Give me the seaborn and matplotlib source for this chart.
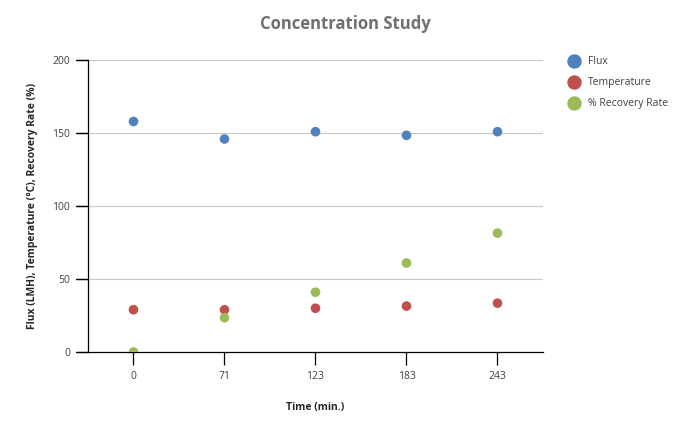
import pandas as pd
import numpy as np
import matplotlib.pyplot as plt
import seaborn as sns

time_labels = ['0', '71', '123', '183', '243']
flux = [158, 146, 151, 148.5, 151]
temperature = [29, 29, 30, 31.5, 33.5]
recovery = [0, 23.5, 41, 61, 81.5]

series_names = ['Flux', 'Temperature', '% Recovery Rate']
colors = ['#4F81BD', '#C0504D', '#9BBB59']

df = pd.DataFrame({
    'Time': time_labels * 3,
    'Value': flux + temperature + recovery,
    'Series': [series_names[0]] * 5 + [series_names[1]] * 5 + [series_names[2]] * 5,
})

sns.set_style('white', {'xtick.bottom': True, 'ytick.left': True,
                        'axes.edgecolor': 'black'})
plt.rcParams['font.family'] = ['Open Sans', 'DejaVu Sans']

fig = plt.figure(figsize=(6.88, 4.33), dpi=100)
ax = fig.add_axes([0.1279, 0.187, 0.6613, 0.674])

sns.scatterplot(data=df, x='Time', y='Value', hue='Series', palette=colors,
                s=48, edgecolor='none', ax=ax, zorder=3)

ax.set_xlim(-0.5, 4.5)
ax.set_ylim(0, 200)
ax.set_yticks([0, 50, 100, 150, 200])

# horizontal gridlines at the y ticks
for yv in ax.get_yticks()[1:]:
    ax.axhline(yv, color='#c8c8c8', linewidth=0.8, zorder=1)

# y tick marks drawn as short lines left of the axis (the normal ones don't show up)
for yv in ax.get_yticks():
    ax.plot([-0.026, 0], [yv, yv], transform=ax.get_yaxis_transform(),
            color='black', linewidth=0.9, clip_on=False, zorder=4)

for s in ['top', 'right']:
    ax.spines[s].set_visible(False)
for s in ['left', 'bottom']:
    ax.spines[s].set_linewidth(0.9)

ax.xaxis.set_tick_params(bottom=True, length=9, width=0.9, color='black',
                         labelsize=7.5, labelcolor='#404040', direction='out', pad=5)
ax.yaxis.set_tick_params(left=True, length=9, width=0.9, color='black',
                         labelsize=7.5, labelcolor='#404040', direction='out', pad=4)

ax.set_xlabel('Time (min.)', fontsize=7.5, fontweight='bold', labelpad=14)
ax.set_ylabel('Flux (LMH), Temperature (°C), Recovery Rate (%)', fontsize=7.5,
              fontweight='bold', labelpad=10)

fig.suptitle('Concentration Study', x=0.502, y=0.965, fontsize=12,
             fontweight='bold', color='#707070')

leg = ax.legend(loc='upper left', bbox_to_anchor=(1.025, 1.045), frameon=False,
                fontsize=7.5, handletextpad=0.3, labelspacing=0.95, markerscale=1.5)
for t in leg.get_texts():
    t.set_color('#404040')

fig.savefig('out.png', dpi=100)
